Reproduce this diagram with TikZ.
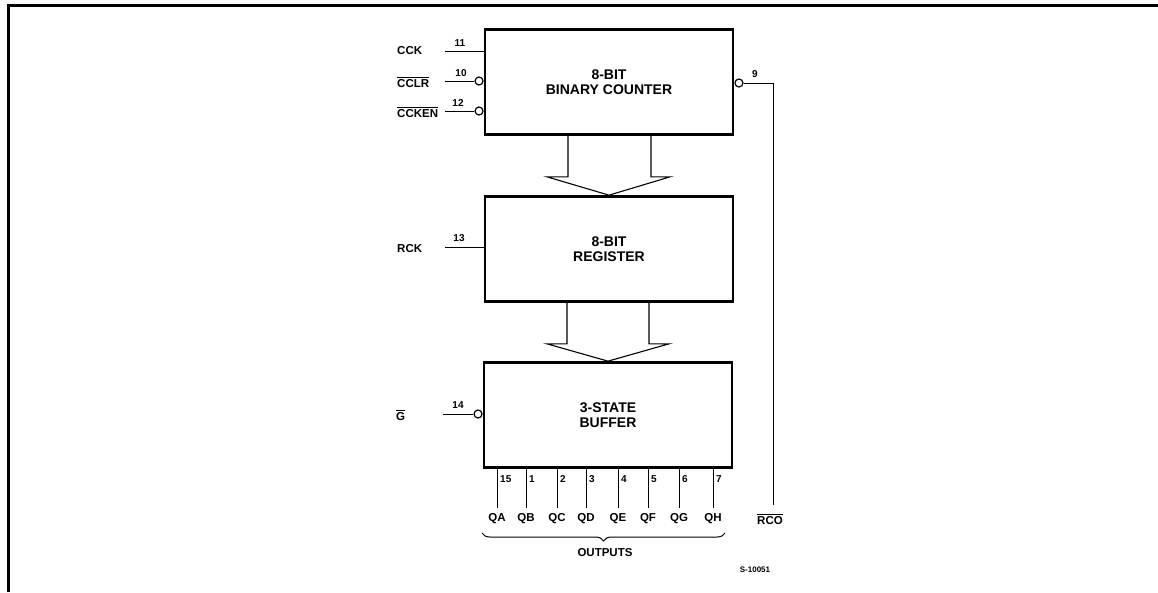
\documentclass[tikz,border=0pt]{standalone}
\usepackage{fontspec}
\setmainfont{Liberation Sans}
\usepackage{amsmath}
\usetikzlibrary{calc,decorations.pathreplacing}

\tikzset{
  blk/.style={draw, rectangle, line width=2.7pt, minimum width=248pt, minimum height=105pt,
    inner sep=0pt, align=center, font=\bfseries\fontsize{14}{15.5}\selectfont},
  bubble/.style={draw, circle, line width=1.2pt, minimum size=8pt, inner sep=0pt},
  pin/.style={line width=1pt},
  pinno/.style={font=\bfseries\fontsize{10}{10}\selectfont, inner sep=0pt},
  sig/.style={font=\bfseries\fontsize{11.5}{12}\selectfont, inner sep=0pt},
  bus/.style={line width=1.1pt, line join=miter},
}

\begin{document}
\begin{tikzpicture}[x=1pt,y=-1pt]
    \useasboundingbox (0,0) rectangle (1158,592);
    \draw[line width=3pt] (8,592) -- (8,5) -- (1158,5); % frame

    % blocks
    \node[blk] (cnt) at (609,82) {8-BIT\\BINARY COUNTER};
    \node[blk] (reg) at (609,249) {8-BIT\\REGISTER};
    \node[blk] (buf) at (608,415) {3-STATE\\BUFFER};

    % bus arrows
    \draw[bus] ($(cnt.south)+(-41,0)$) -- ++(0,41) -- ++(-21,0) -- (reg.north)
        -- ($(cnt.south)+(61,41)$) -- ++(-19,0) -- ++(0,-41);
    \draw[bus] ($(reg.south)+(-42,0)$) -- ++(0,41) -- ++(-20,0) -- (buf.north)
        -- ($(reg.south)+(60,41)$) -- ++(-20,0) -- ++(0,-41);

    % counter inputs
    \coordinate (cckin) at (445,51);
    \coordinate (clrin) at (445,81);
    \coordinate (enin) at (445,111);
    \node[bubble, anchor=east] (clrb) at (cnt.west |- clrin) {};
    \node[bubble, anchor=east] (enb) at (cnt.west |- enin) {};
    \draw[pin] (cckin) -- (cckin -| cnt.west);
    \draw[pin] (clrin) -- (clrb.west);
    \draw[pin] (enin) -- (enb.west);
    \node[sig, anchor=west] (cck) at (397,51) {CCK};
    \node[sig, anchor=west] (cclr) at (397,82) {$\overline{\text{CCLR}}$};
    \node[sig, anchor=west] (ccken) at (397,112) {$\overline{\text{CCKEN}}$};
    \node[pinno] at (460,43) {11};
    \node[pinno] at (461,73) {10};
    \node[pinno] at (458,103) {12};

    % ripple carry out
    \coordinate (rcoend) at (773,505);
    \node[bubble, anchor=west] (rcob) at (cnt.east |- 0,83) {};
    \draw[pin] (rcob.east) -| (rcoend);
    \node[pinno] at (755,74) {9};
    \node[sig] (rco) at (770,519) {$\overline{\text{RCO}}$};

    % register clock
    \coordinate (rckin) at (445,247);
    \draw[pin] (rckin) -- (rckin -| reg.west);
    \node[sig, anchor=west] (rck) at (397,249) {RCK};
    \node[pinno] at (459,238) {13};

    % output enable
    \coordinate (gin) at (443,414);
    \node[bubble, anchor=east] (gb) at (buf.west |- gin) {};
    \draw[pin] (gin) -- (gb.west);
    \node[sig, anchor=west] (g) at (396,415) {$\overline{\text{G}}$};
    \node[pinno] at (458,405) {14};

    % outputs
    \foreach \x/\p/\q in {497/15/QA, 526/1/QB, 557/2/QC, 586/3/QD, 618/4/QE, 648/5/QF, 679/6/QG, 713/7/QH} {
        \coordinate (o\q) at (\x,508);
        \draw[pin] (o\q |- buf.south) -- (o\q);
        \node[pinno, anchor=west] at (\x+3,479) {\p};
        \node[sig] (l\q) at (\x,519) {\q};
    }
    \draw[pin, decorate, decoration={brace, mirror, amplitude=8pt}] (482,533) -- (725,533);
    \node[sig] (outs) at (605,553) {OUTPUTS};
    \node[font=\bfseries\fontsize{8}{9}\selectfont] (ref) at (755,570) {S-10051};
\end{tikzpicture}
\end{document}
